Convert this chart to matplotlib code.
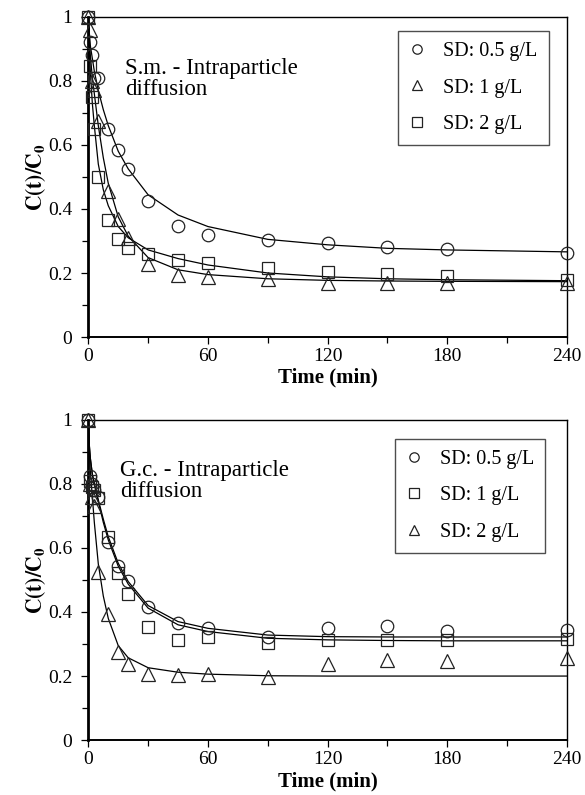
import numpy as np
import matplotlib.pyplot as plt
from matplotlib.ticker import MultipleLocator, FuncFormatter

plt.rcParams["font.family"] = ["Liberation Serif", "DejaVu Serif"]
plt.rcParams["mathtext.fontset"] = "stix"

# sampling times of the measured points (min)
t_obs = [0, 1, 2, 3, 5, 10, 15, 20, 30, 45, 60, 90, 120, 150, 180, 240]

# S.m. measured C(t)/C0
sm_05 = [1.0, 0.92, 0.88, 0.81, 0.81, 0.65, 0.585, 0.525, 0.425, 0.347, 0.318, 0.303, 0.295, 0.280, 0.275, 0.263]
sm_1 = [1.0, 0.96, 0.80, 0.77, 0.675, 0.457, 0.368, 0.308, 0.228, 0.194, 0.187, 0.180, 0.168, 0.168, 0.168, 0.170]
sm_2 = [1.0, 0.845, 0.75, 0.65, 0.50, 0.366, 0.305, 0.279, 0.259, 0.241, 0.230, 0.217, 0.202, 0.197, 0.192, 0.178]

# G.c. measured C(t)/C0
gc_05 = [1.0, 0.825, 0.80, 0.78, 0.76, 0.62, 0.544, 0.498, 0.415, 0.365, 0.349, 0.323, 0.349, 0.356, 0.342, 0.345]
gc_1 = [1.0, 0.81, 0.79, 0.78, 0.755, 0.635, 0.523, 0.456, 0.354, 0.312, 0.321, 0.304, 0.312, 0.312, 0.312, 0.316]
gc_2 = [1.0, 0.80, 0.76, 0.73, 0.525, 0.394, 0.276, 0.238, 0.208, 0.203, 0.208, 0.198, 0.238, 0.250, 0.248, 0.255]

# model curves
t_fit = [0, 0.5, 1, 2, 3, 5, 7.5, 10, 15, 20, 30, 45, 60, 90, 120, 150, 180, 240]
sm_05_fit = [1.0, 0.95, 0.91, 0.87, 0.83, 0.77, 0.71, 0.66, 0.58, 0.525, 0.444, 0.381, 0.345, 0.305, 0.288, 0.277, 0.272, 0.266]
sm_1_fit = [1.0, 0.93, 0.88, 0.81, 0.76, 0.66, 0.56, 0.48, 0.375, 0.315, 0.248, 0.210, 0.195, 0.182, 0.177, 0.175, 0.174, 0.173]
sm_2_fit = [1.0, 0.90, 0.83, 0.73, 0.66, 0.54, 0.46, 0.41, 0.345, 0.31, 0.272, 0.245, 0.225, 0.200, 0.188, 0.182, 0.179, 0.176]
gc_05_fit = [1.0, 0.92, 0.88, 0.83, 0.80, 0.75, 0.69, 0.635, 0.552, 0.495, 0.420, 0.370, 0.349, 0.328, 0.323, 0.322, 0.322, 0.322]
gc_1_fit = [1.0, 0.92, 0.88, 0.83, 0.80, 0.745, 0.68, 0.625, 0.543, 0.487, 0.412, 0.360, 0.339, 0.318, 0.313, 0.311, 0.310, 0.310]
gc_2_fit = [1.0, 0.90, 0.84, 0.76, 0.68, 0.55, 0.45, 0.38, 0.295, 0.257, 0.226, 0.212, 0.206, 0.201, 0.200, 0.200, 0.200, 0.200]

panels = [
    ("S.m. - Intraparticle\ndiffusion", (18.3, 0.87), (0.962, 0.955),
     [(sm_05, sm_05_fit, "o", "SD: 0.5 g/L"),
      (sm_1, sm_1_fit, "^", "SD: 1 g/L"),
      (sm_2, sm_2_fit, "s", "SD: 2 g/L")]),
    ("G.c. - Intraparticle\ndiffusion", (16, 0.875), (0.955, 0.94),
     [(gc_05, gc_05_fit, "o", "SD: 0.5 g/L"),
      (gc_1, gc_1_fit, "s", "SD: 1 g/L"),
      (gc_2, gc_2_fit, "^", "SD: 2 g/L")]),
]

fig = plt.figure(figsize=(5.85, 7.95), dpi=100)
ax_top = fig.add_axes([0.151, 0.576, 0.818, 0.403])
ax_bot = fig.add_axes([0.151, 0.069, 0.818, 0.403])

def ylab(v, pos):
    return "%g" % round(v, 1)

for ax, (title, txt_pos, leg_pos, series) in zip([ax_top, ax_bot], panels):
    handles = []
    for obs, fit, mk, lab in series:
        ax.plot(t_fit, fit, color="black", lw=0.9, zorder=2)
        ms = 9.5 if mk == "^" else 9
        h, = ax.plot(t_obs, obs, linestyle="none", marker=mk, ms=ms,
                     mfc="none", mec="#222222", mew=0.9, clip_on=False,
                     zorder=3, label=lab)
        handles.append(h)

    ax.set_xlim(0, 240)
    ax.set_ylim(0, 1)
    ax.xaxis.set_major_locator(MultipleLocator(60))
    ax.xaxis.set_minor_locator(MultipleLocator(30))
    ax.yaxis.set_major_locator(MultipleLocator(0.2))
    ax.yaxis.set_minor_locator(MultipleLocator(0.1))
    ax.yaxis.set_major_formatter(FuncFormatter(ylab))
    ax.tick_params(which="both", direction="out", labelsize=14)
    ax.tick_params(axis="x", which="both", pad=3)
    ax.tick_params(axis="y", which="both", pad=6.5, right=False)
    ax.tick_params(which="major", length=5, width=0.9)
    ax.tick_params(which="minor", length=4, width=0.9)

    ax.spines["left"].set_linewidth(2)
    ax.spines["bottom"].set_linewidth(1.4)
    ax.spines["top"].set_linewidth(1.0)
    ax.spines["right"].set_linewidth(1.0)

    ax.set_xlabel("Time (min)", fontsize=15, fontweight="bold", labelpad=2)
    ax.set_ylabel(r"$\mathbf{C(t)/C_0}$", fontsize=15.5, labelpad=0)

    ax.text(txt_pos[0], txt_pos[1], title, fontsize=16.5, va="top",
            ha="left", linespacing=1.0)

    leg = ax.legend(handles=handles, loc="upper right",
                    bbox_to_anchor=leg_pos, fontsize=14.5,
                    frameon=True, fancybox=False, edgecolor="#222222",
                    handlelength=0.8, handletextpad=0.9, markerscale=0.75,
                    labelspacing=0.85, borderpad=0.55, borderaxespad=0)
    leg.get_frame().set_linewidth(1.0)

fig.savefig("out.png", dpi=100)
